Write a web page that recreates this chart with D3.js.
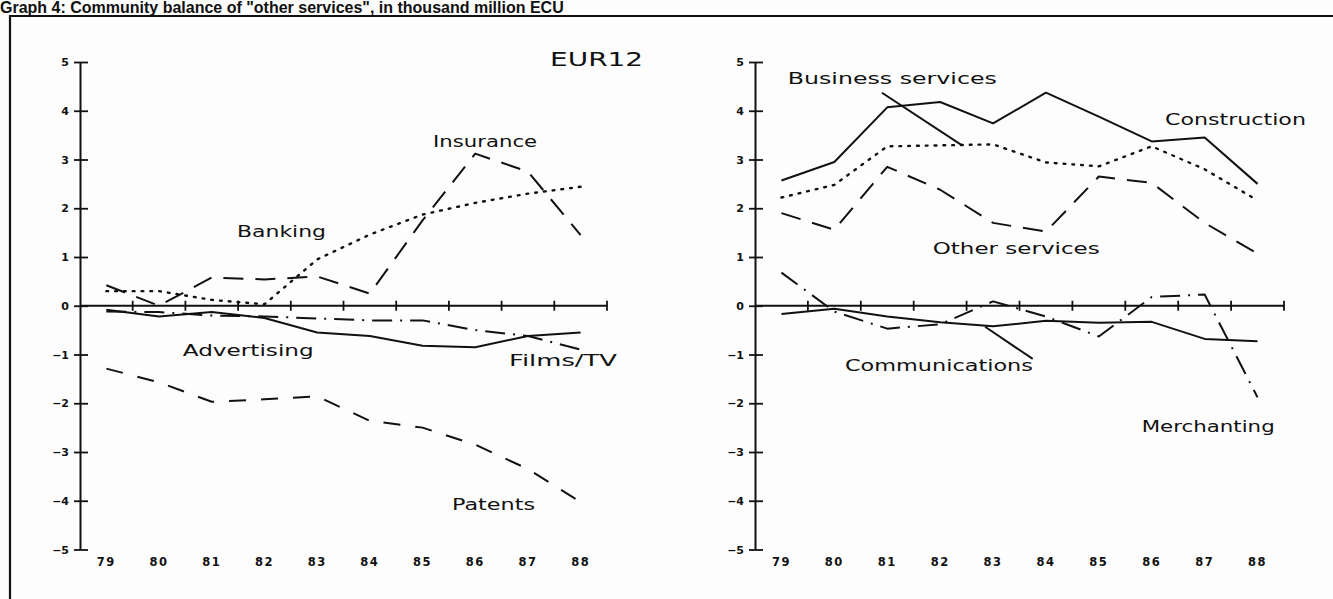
<!DOCTYPE html>
<html>
<head>
<meta charset="utf-8">
<script src="https://cdn.jsdelivr.net/npm/d3@7"></script>
<style>
  body { margin: 0; background: #fdfdfd; }
  svg { display: block; }
</style>
</head>
<body>
<svg id="chart" width="1333" height="599"></svg>
<script>
// data (thousand million ECU)
const years = ["79", "80", "81", "82", "83", "84", "85", "86", "87", "88"]
const yTicks = [-5, -4, -3, -2, -1, 0, 1, 2, 3, 4, 5]

const insurance = [0.42, 0.0, 0.58, 0.54, 0.6, 0.25, 1.75, 3.12, 2.75, 1.45]
const banking = [0.3, 0.3, 0.12, 0.03, 0.95, 1.46, 1.87, 2.11, 2.3, 2.44]
const advertising = [-0.08, -0.22, -0.13, -0.25, -0.55, -0.62, -0.82, -0.85, -0.62, -0.55]
const filmsTV = [-0.12, -0.13, -0.2, -0.22, -0.26, -0.3, -0.3, -0.5, -0.62, -0.9]
const patents = [-1.29, -1.57, -1.97, -1.92, -1.86, -2.36, -2.5, -2.85, -3.35, -4.03]

const construction = [2.57, 2.95, 4.07, 4.18, 3.74, 4.37, 3.88, 3.37, 3.45, 2.5]
const businessServices = [2.22, 2.48, 3.27, 3.29, 3.31, 2.94, 2.86, 3.27, 2.8, 2.16]
const otherServices = [1.9, 1.56, 2.85, 2.38, 1.7, 1.52, 2.65, 2.52, 1.7, 1.07]
const communications = [-0.17, -0.06, -0.22, -0.34, -0.42, -0.31, -0.35, -0.33, -0.68, -0.73]
const merchanting = [0.68, -0.12, -0.47, -0.38, 0.09, -0.22, -0.63, 0.18, 0.23, -1.88]

// line styles
const SOLID = null
const LONGDASH = "20,12"
const DASH = "17,15"
const DOTS = "1.8,7"
const DASHDOT = "20,8,2,8"

const svg = d3.select("#chart")

// title
svg.append("text")
    .attr("x", 0)
    .attr("y", 12.5)
    .attr("font-family", "Liberation Sans, Arial, sans-serif")
    .attr("font-weight", "bold")
    .attr("font-size", 16)
    .attr("fill", "#111")
    .text("Graph 4: Community balance of \"other services\", in thousand million ECU")

// frame
svg.append("path")
    .attr("d", "M10,640 L10,16 L1340,16")
    .attr("fill", "none")
    .attr("stroke", "#111")
    .attr("stroke-width", 2.2)

function panel(left, right, series, labels, pointers) {
    let x = d3.scaleBand().domain(years).range([left, right])
    let y = d3.scaleLinear().domain([-5, 5]).range([549.5, 62])
    let g = svg.append("g")
    let xi = (i) => x(years[0]) + x.bandwidth() / 2 + i * x.step()

    // y axis
    let axisL = d3.axisLeft(y)
        .tickValues(yTicks)
        .tickSizeInner(6)
        .tickSizeOuter(0)
        .tickPadding(6)
        .tickFormat(d => d < 0 ? "\u2212" + Math.abs(d) : d)

    let ga = g.append("g")
        .attr("transform", `translate(${left},0)`)
        .call(axisL)
    ga.select(".domain").attr("stroke", "#111").attr("stroke-width", 2)
    ga.selectAll(".tick line").attr("x1", 8).attr("x2", -6)
        .attr("stroke", "#111").attr("stroke-width", 1.8)
    ga.selectAll(".tick text")
        .attr("x", -11)
        .attr("font-family", "DejaVu Sans, sans-serif")
        .attr("font-weight", "bold")
        .attr("font-size", 11)
        .attr("fill", "#111")

    // zero axis with ticks between the years
    let zero = g.append("g").attr("transform", `translate(0,${y(0)})`)
    zero.append("line")
        .attr("x1", left).attr("x2", right)
        .attr("stroke", "#111").attr("stroke-width", 1.8)
    zero.selectAll("line.t")
        .data(years)
        .join("line")
        .attr("class", "t")
        .attr("x1", d => x(d) + x.step())
        .attr("x2", d => x(d) + x.step())
        .attr("y1", -5).attr("y2", 5)
        .attr("stroke", "#111").attr("stroke-width", 1.8)

    // year labels at the bottom
    let axisB = d3.axisBottom(x).tickSize(0).tickPadding(0)
    let gb = g.append("g")
        .attr("transform", `translate(0,${y(-5) + 8})`)
        .call(axisB)
    gb.select(".domain").remove()
    gb.selectAll(".tick text")
        .attr("font-family", "DejaVu Sans, sans-serif")
        .attr("font-weight", "bold")
        .attr("font-size", 11.5)
        .attr("letter-spacing", 1.5)
        .attr("fill", "#111")

    // series lines
    let line = d3.line()
        .x((d, i) => x(years[i]) + x.bandwidth() / 2)
        .y(d => y(d))

    g.selectAll("path.s")
        .data(series)
        .join("path")
        .attr("class", "s")
        .attr("d", d => line(d.values))
        .attr("fill", "none")
        .attr("stroke", "#111")
        .attr("stroke-width", d => d.dash === DOTS ? 2.4 : 2)
        .attr("stroke-linecap", d => d.dash === DOTS ? "round" : "butt")
        .attr("stroke-linejoin", "round")
        .attr("stroke-dasharray", d => d.dash)

    // leader lines
    g.selectAll("line.p")
        .data(pointers)
        .join("line")
        .attr("class", "p")
        .attr("x1", d => xi(d.from[0])).attr("y1", d => y(d.from[1]))
        .attr("x2", d => xi(d.to[0])).attr("y2", d => y(d.to[1]))
        .attr("stroke", "#111").attr("stroke-width", 2)

    // series labels
    g.selectAll("text.lab")
        .data(labels)
        .join("text")
        .attr("class", "lab")
        .attr("x", d => xi(d.at[0]))
        .attr("y", d => y(d.at[1]))
        .attr("dy", "0.36em")
        .attr("font-family", "DejaVu Sans, sans-serif")
        .attr("font-size", d => d.size || 15)
        .attr("fill", "#111")
        .attr("textLength", d => d.w)
        .attr("lengthAdjust", "spacingAndGlyphs")
        .text(d => d.text)
}

panel(80, 607, [
    { name: "Insurance", values: insurance, dash: LONGDASH },
    { name: "Banking", values: banking, dash: DOTS },
    { name: "Advertising", values: advertising, dash: SOLID },
    { name: "Films/TV", values: filmsTV, dash: DASHDOT },
    { name: "Patents", values: patents, dash: DASH }
], [
    { text: "EUR12", at: [8.42, 5.05], w: 93, size: 19 },
    { text: "Insurance", at: [6.2, 3.37], w: 104 },
    { text: "Banking", at: [2.48, 1.53], w: 89 },
    { text: "Advertising", at: [1.45, -0.93], w: 131 },
    { text: "Films/TV", at: [7.64, -1.13], w: 108 },
    { text: "Patents", at: [6.56, -4.08], w: 83 }
], [])

panel(755, 1284, [
    { name: "Construction", values: construction, dash: SOLID },
    { name: "Business services", values: businessServices, dash: DOTS },
    { name: "Other services", values: otherServices, dash: LONGDASH },
    { name: "Communications", values: communications, dash: SOLID },
    { name: "Merchanting", values: merchanting, dash: DASHDOT }
], [
    { text: "Business services", at: [0.12, 4.65], w: 209 },
    { text: "Construction", at: [7.25, 3.82], w: 141 },
    { text: "Other services", at: [2.86, 1.17], w: 167 },
    { text: "Communications", at: [1.2, -1.23], w: 188 },
    { text: "Merchanting", at: [6.81, -2.48], w: 133 }
], [
    { from: [1.9, 4.37], to: [3.4, 3.3] },
    { from: [3.85, -0.43], to: [4.75, -1.09] }
])
</script>
</body>
</html>
